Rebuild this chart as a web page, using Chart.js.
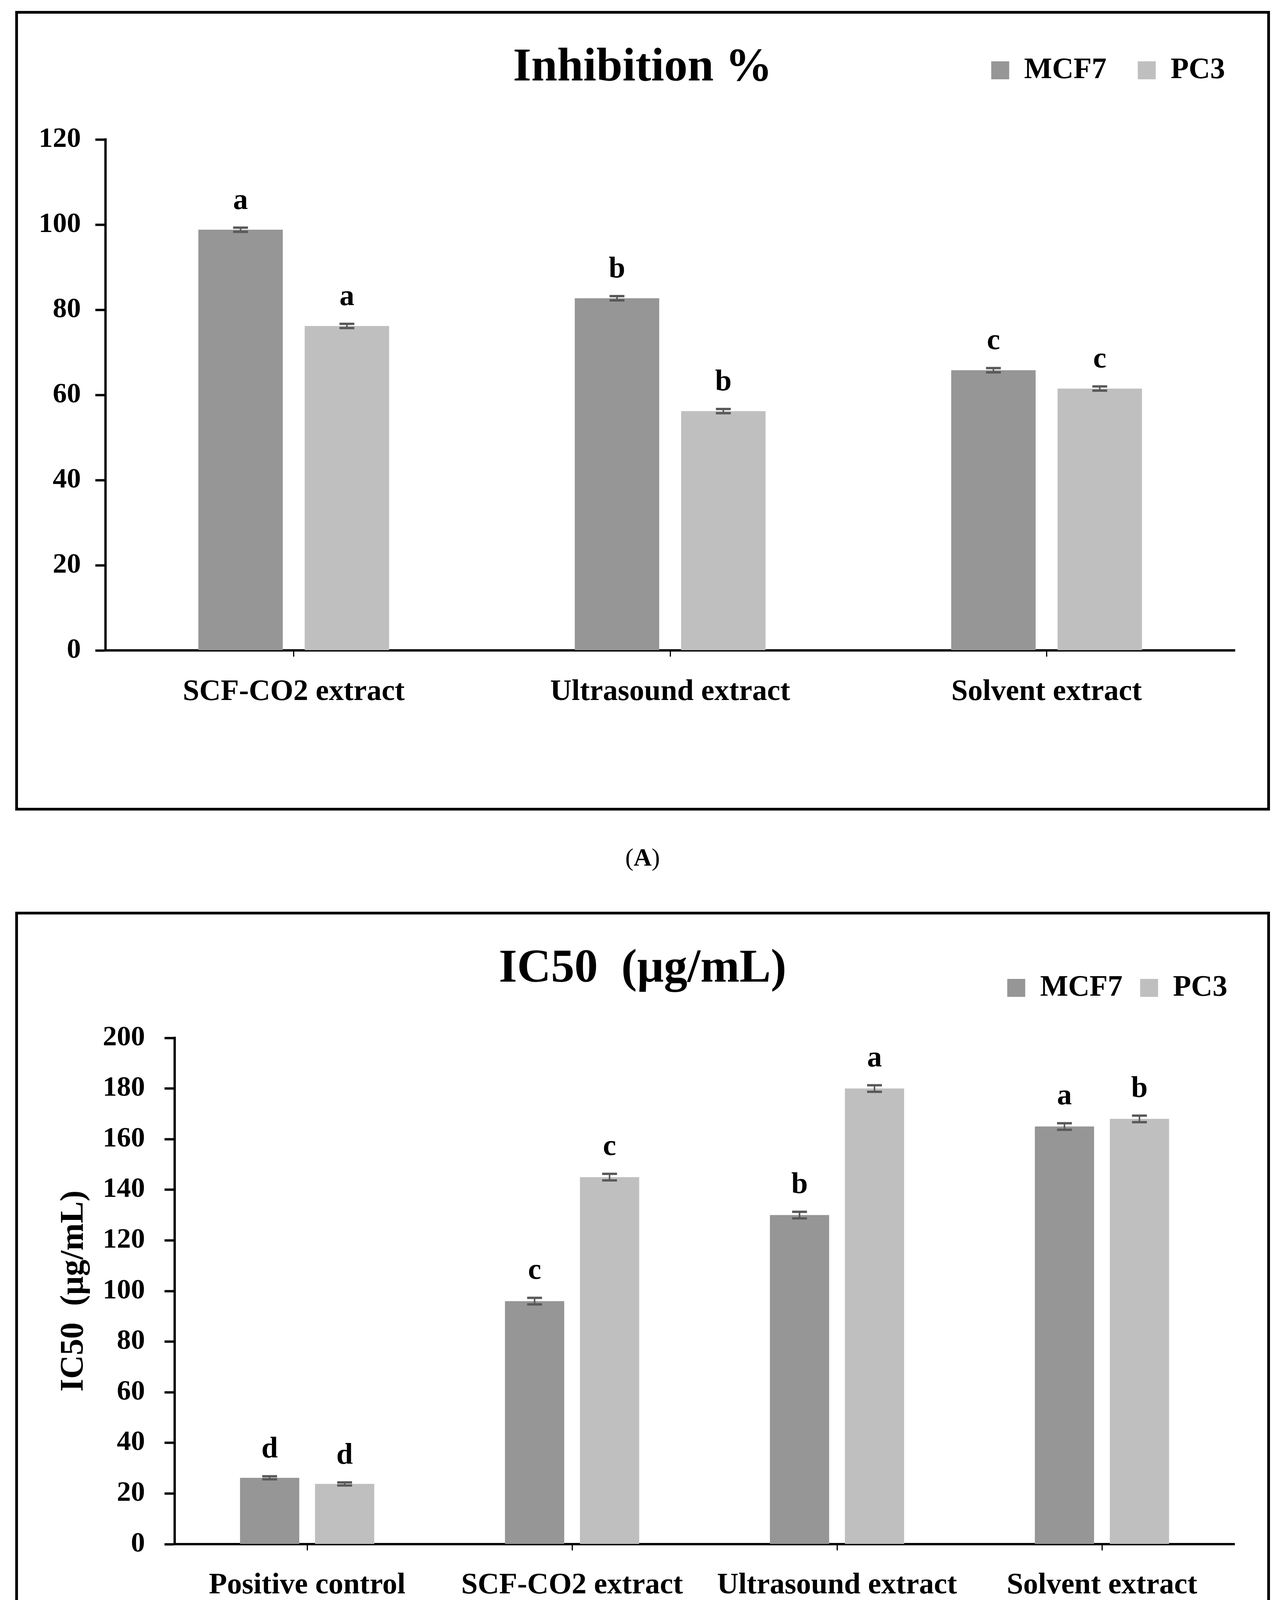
<!DOCTYPE html>
<html>
<head>
<meta charset="utf-8">
<script src="https://cdn.jsdelivr.net/npm/chart.js@4.4.1/dist/chart.umd.min.js"></script>
<style>
  body { margin: 0; background: #fff; width: 3291px; height: 4380px; position: relative; font-family: "Liberation Serif", serif; }
  .panel { position: absolute; left: 39px; width: 3211px; }
  .frame { position: absolute; left: 0; top: 0; right: 0; bottom: 0; border: 7px solid #000; box-sizing: border-box; pointer-events: none; }
  .cap { position: absolute; left: 39px; width: 3211px; text-align: center; font-size: 64px; line-height: 64px; color: #000; }
</style>
</head>
<body>
<div class="panel" style="top:28px;height:2047px"><canvas id="chartA"></canvas><div class="frame"></div></div>
<div class="cap" style="top:2163px">(<b>A</b>)</div>
<div class="panel" style="top:2334px;height:1871px"><canvas id="chartB"></canvas><div class="frame"></div></div>
<div class="cap" style="top:4273px">(<b>B</b>)</div>

<script>
// panel A - inhibition %
const catsA = ['SCF-CO2 extract', 'Ultrasound extract', 'Solvent extract'];
const mcf7A = [98.8, 82.7, 65.8];
const pc3A = [76.2, 56.2, 61.5];
const mcf7ErrA = [0.5, 0.5, 0.5];
const pc3ErrA = [0.5, 0.5, 0.5];
const mcf7LetA = ['a', 'b', 'c'];
const pc3LetA = ['a', 'b', 'c'];

// panel B - IC50
const catsB = ['Positive control', 'SCF-CO2 extract', 'Ultrasound extract', 'Solvent extract'];
const mcf7B = [26.2, 96, 130, 165];
const pc3B = [23.8, 145, 180, 168];
const mcf7ErrB = [0.6, 1.3, 1.3, 1.3];
const pc3ErrB = [0.6, 1.3, 1.3, 1.3];
const mcf7LetB = ['d', 'c', 'b', 'a'];
const pc3LetB = ['d', 'c', 'a', 'b'];

const FONT = 'Liberation Serif';
Chart.defaults.font.family = FONT;
Chart.defaults.color = '#000';

// error bars + significance letters
const errorBars = {
  id: 'errorBars',
  afterDatasetsDraw(chart) {
    const ctx = chart.ctx, y = chart.scales.y;
    chart.data.datasets.forEach((ds, i) => {
      chart.getDatasetMeta(i).data.forEach((bar, j) => {
        const v = ds.data[j], e = ds.errors[j];
        const top = y.getPixelForValue(v + e), bot = y.getPixelForValue(v - e);
        ctx.save();
        ctx.strokeStyle = '#595959';
        ctx.lineWidth = 4;
        ctx.beginPath();
        ctx.moveTo(bar.x, top); ctx.lineTo(bar.x, bot);
        ctx.stroke();
        ctx.lineWidth = 6;
        ctx.beginPath();
        ctx.moveTo(bar.x - 19, top); ctx.lineTo(bar.x + 19, top);
        ctx.moveTo(bar.x - 19, bot); ctx.lineTo(bar.x + 19, bot);
        ctx.stroke();
        ctx.fillStyle = '#000';
        ctx.font = 'bold 76px "' + FONT + '"';
        ctx.textAlign = 'center';
        ctx.textBaseline = 'alphabetic';
        ctx.fillText(ds.letters[j], bar.x, top - 48);
        ctx.restore();
      });
    });
  }
};

function makeChart(id, o) {
  return new Chart(document.getElementById(id), {
    type: 'bar',
    data: {
      labels: o.cats,
      datasets: [
        { label: 'MCF7', data: o.mcf7, errors: o.mcf7Err, letters: o.mcf7Let, backgroundColor: '#969696',
          barPercentage: o.bp, categoryPercentage: o.cp },
        { label: 'PC3', data: o.pc3, errors: o.pc3Err, letters: o.pc3Let, backgroundColor: '#bfbfbf',
          barPercentage: o.bp, categoryPercentage: o.cp }
      ]
    },
    options: {
      responsive: true,
      maintainAspectRatio: false,
      devicePixelRatio: 1,
      animation: false,
      layout: { padding: { top: o.padTop, left: o.side, right: o.side, bottom: 0 } },
      plugins: {
        legend: {
          position: 'top', align: 'end', weight: 3000,
          labels: { boxWidth: 46, boxHeight: 46, padding: o.legPad, color: '#000',
                    font: { size: 76, weight: 'bold' } }
        },
        title: {
          display: true, text: o.title, color: '#000',
          font: { size: 120, weight: 'bold', lineHeight: 1.2 },
          padding: { top: o.titleTop, bottom: o.titleBottom }
        },
        tooltip: { enabled: false }
      },
      scales: {
        x: {
          grid: { offset: false, drawOnChartArea: false, tickLength: 16, tickWidth: 3, tickColor: '#000' },
          border: { color: '#000', width: 6 },
          ticks: { padding: o.xPad, maxRotation: 0, color: '#000', font: { size: 76, weight: 'bold' } },
          afterFit: s => { s.height = o.xHeight; }
        },
        y: {
          min: 0, max: o.yMax,
          ticks: { stepSize: 20, padding: o.yPad, color: '#000', font: { size: 72, weight: 'bold' } },
          grid: { drawOnChartArea: false, tickLength: 26, tickWidth: 6, tickColor: '#000' },
          border: { color: '#000', width: 6 },
          title: o.yTitle ? { display: true, text: o.yTitle, color: '#000',
                   font: { size: 84, weight: 'bold', lineHeight: 1.2 }, padding: { top: 37, bottom: 0 } }
                 : { display: false },
          afterFit: s => { s.width = o.yWidth; }
        },
        y2: {
          position: 'right', display: true,
          grid: { display: false }, border: { display: false }, ticks: { display: false },
          afterFit: s => { s.width = o.rightGap; }
        }
      }
    },
    plugins: [errorBars]
  });
}

makeChart('chartA', {
  cats: catsA, mcf7: mcf7A, pc3: pc3A, mcf7Err: mcf7ErrA, pc3Err: pc3ErrA,
  mcf7Let: mcf7LetA, pc3Let: pc3LetA, title: 'Inhibition %', yMax: 120,
  bp: 0.794, cp: 0.565, padTop: 34, side: 35, legPad: 80, titleTop: -125, titleBottom: 110,
  xHeight: 410, xPad: 46, yWidth: 196, yPad: 37, rightGap: 55, yTitle: null
});

makeChart('chartB', {
  cats: catsB, mcf7: mcf7B, pc3: pc3B, mcf7Err: mcf7ErrB, pc3Err: pc3ErrB,
  mcf7Let: mcf7LetB, pc3Let: pc3LetB, title: 'IC50  (µg/mL)', yMax: 200,
  bp: 0.79, cp: 0.566, padTop: 112, side: 64, legPad: 45, titleTop: -167, titleBottom: 103,
  xHeight: 252, xPad: 45, yWidth: 344, yPad: 50, rightGap: 27, yTitle: 'IC50  (µg/mL)'
});
</script>
</body>
</html>
